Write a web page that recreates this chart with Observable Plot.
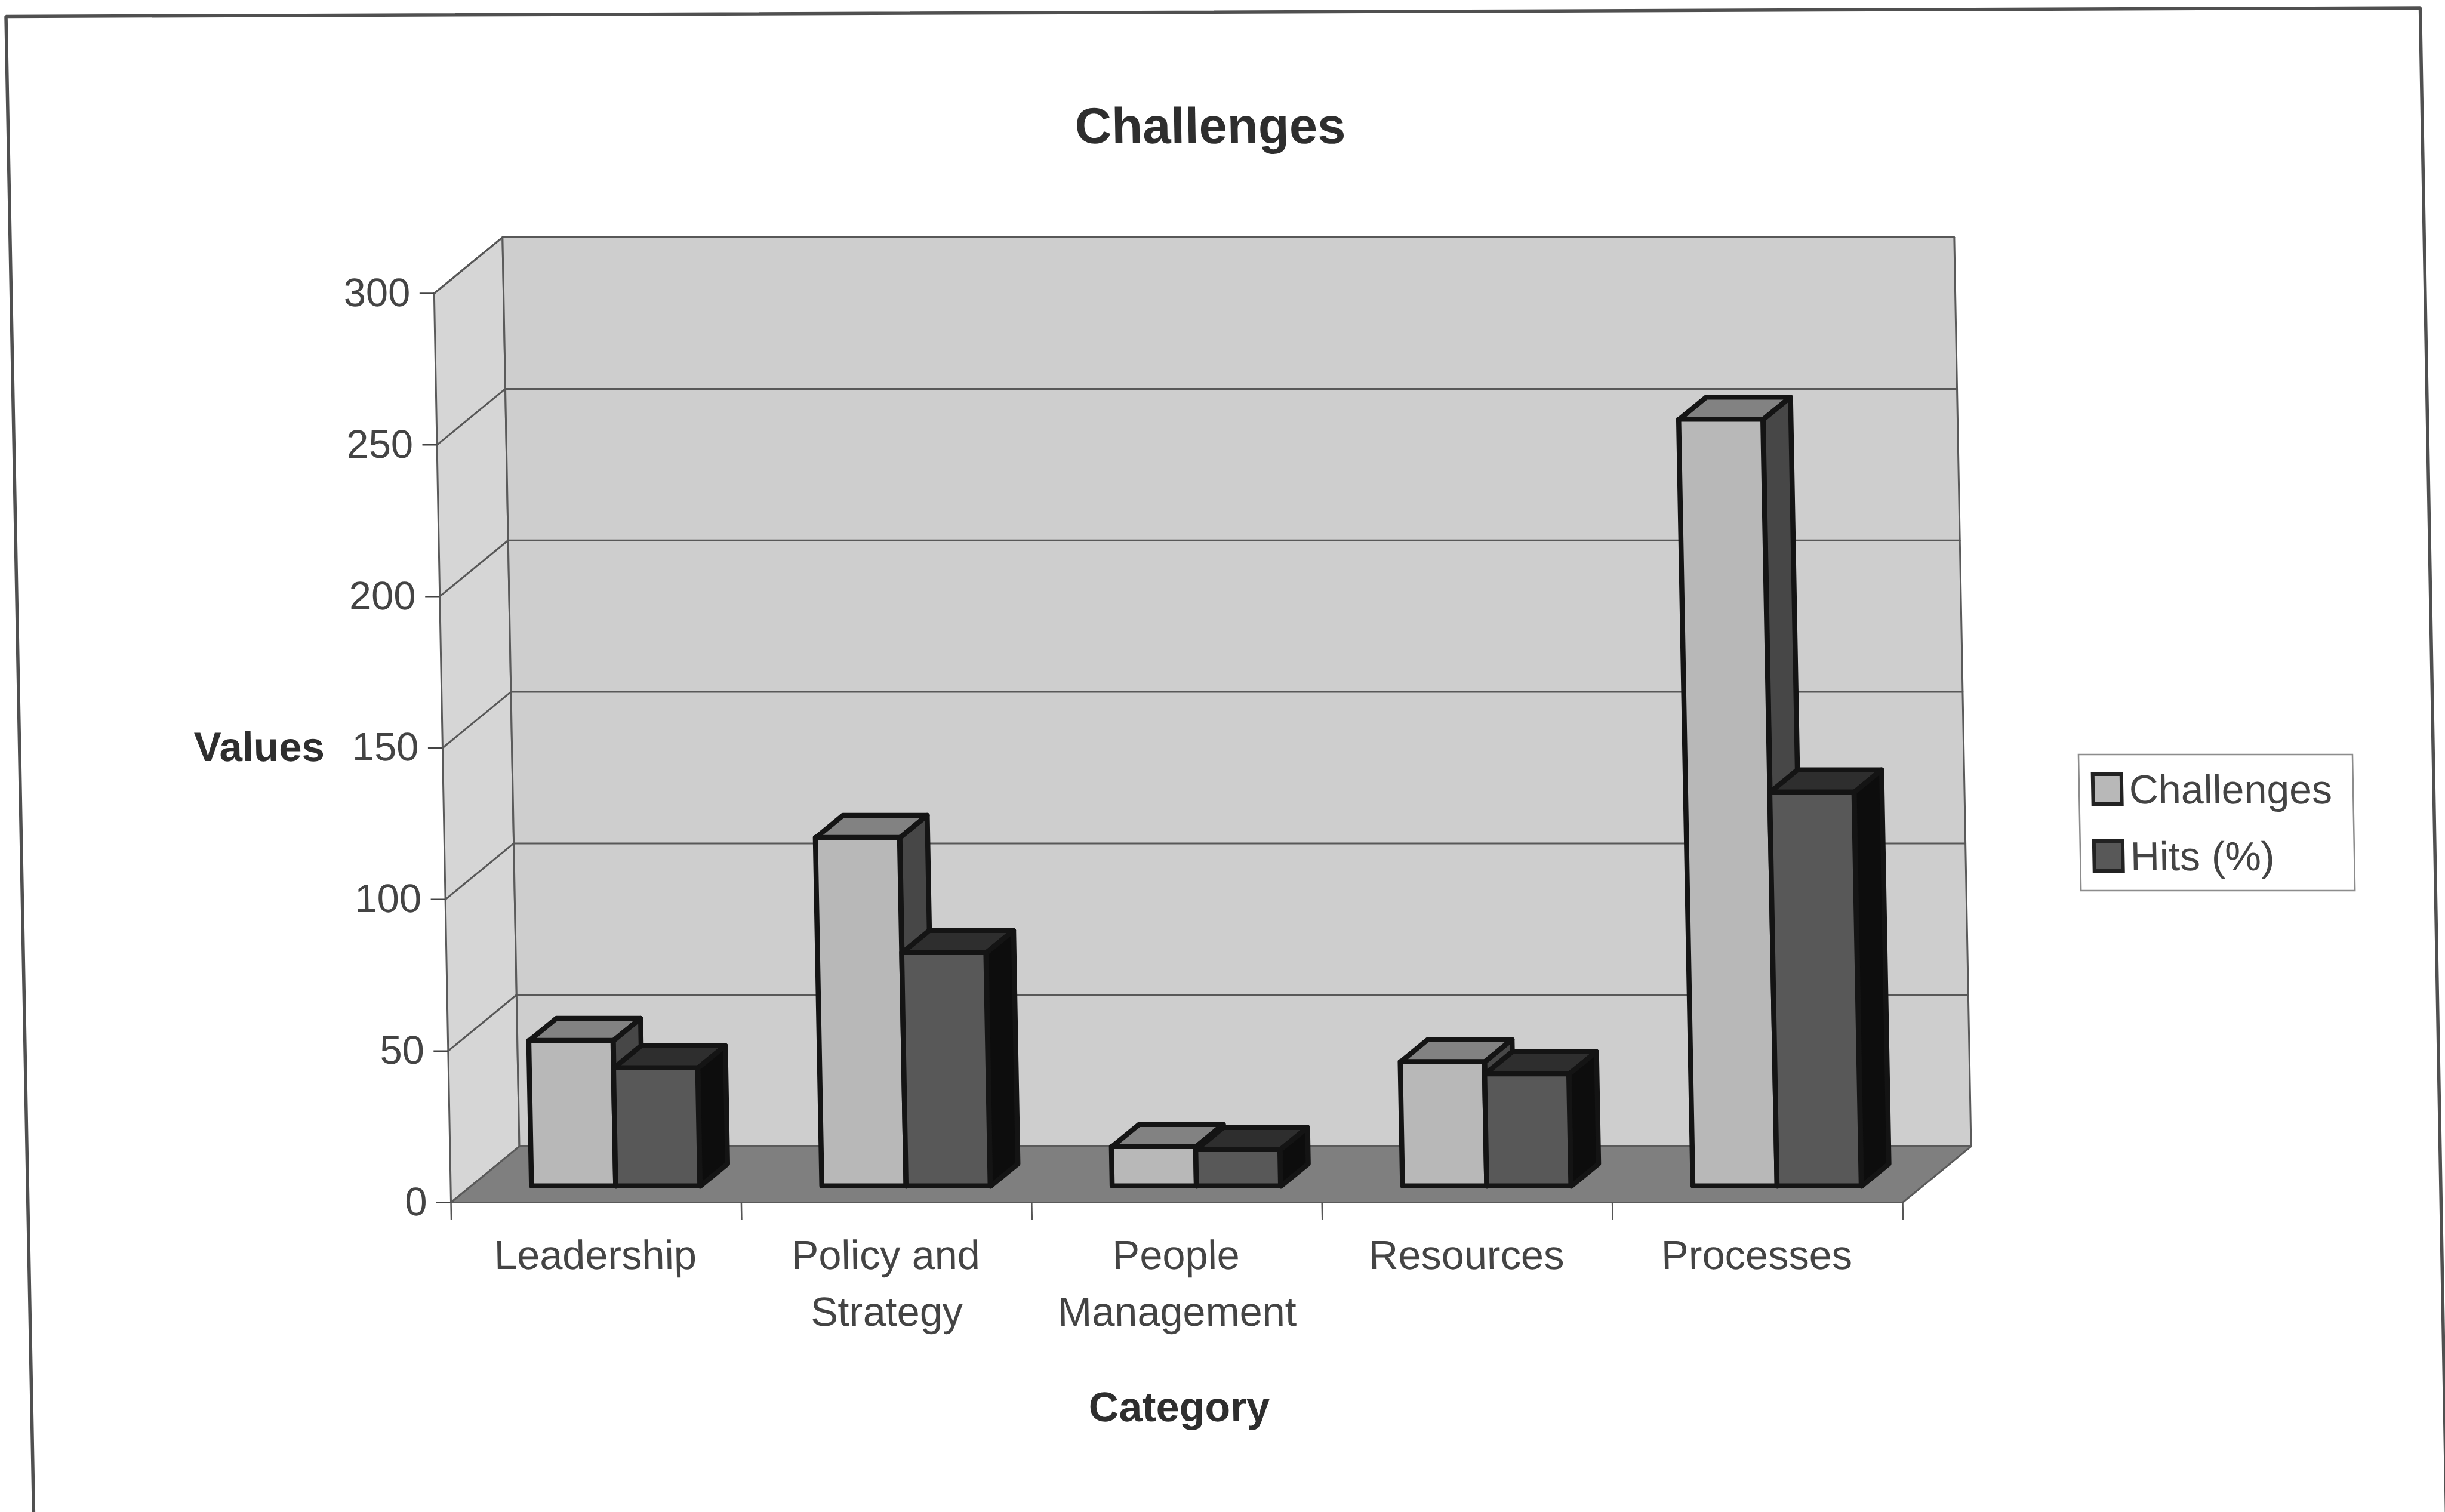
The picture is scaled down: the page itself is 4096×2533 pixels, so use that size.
<!DOCTYPE html>
<html>
<head>
<meta charset="utf-8">
<style>
  html, body { margin: 0; padding: 0; background: #fff; overflow: hidden; width: 4096px; height: 2533px; }
  svg { display: block; }
</style>
<script src="https://cdn.jsdelivr.net/npm/d3@7"></script>
<script src="https://cdn.jsdelivr.net/npm/@observablehq/plot@0.6"></script>
</head>
<body>
<div id="chart"></div>
<script>
// Chart values
const categories = ["Leadership", "Policy and\nStrategy", "People\nManagement", "Resources", "Processes"];
const challenges = [48, 115, 13, 41, 253];
const hits = [39, 77, 12, 37, 130];
const valueTicks = [0, 50, 100, 150, 200, 250, 300];
const slotTicks = [0, 1, 2, 3, 4, 5];
const seriesNames = ["Challenges", "Hits (%)"];

// Page and plot box, in pixels
const W = 4096, H = 2533;
const plotLeft = 755, plotRight = 3187, plotTop = 491, plotBase = 2014;
const slotPx = (plotRight - plotLeft) / 5, unitPx = (plotBase - plotTop) / 300;
const fromX = (px) => (px - plotLeft) / slotPx;
const fromY = (px) => (plotBase - px) / unitPx;

// The whole drawing leans slightly; the lean pivots on the baseline
const lean = 0.0185;
const unleanX = (px, py) => fromX(px - lean * (py - plotBase));

// Oblique depth of the 3D box, in data units per full depth
const DX = 0.239, DY = 18.5;
const barNear = 0.29, barFar = 0.69;
const prj = (x, v, d) => ({x: x + d * DX, y: v + d * DY});

// Polygon list for the walls and floor
const wallFaces = [
  {id: "left", fill: "#d6d6d6", pts: [prj(0, 0, 0), prj(0, 300, 0), prj(0, 300, 1), prj(0, 0, 1)]},
  {id: "back", fill: "#cecece", pts: [prj(0, 0, 1), prj(5, 0, 1), prj(5, 300, 1), prj(0, 300, 1)]},
  {id: "floor", fill: "#7f7f7f", pts: [prj(0, 0, 0), prj(5, 0, 0), prj(5, 0, 1), prj(0, 0, 1)]}
].flatMap((f) => f.pts.map((p) => ({...p, id: f.id, fill: f.fill})));

// Horizontal rules across the left and back walls
const gridLines = valueTicks.slice(1).flatMap((v) => [
  {...prj(0, v, 0), v}, {...prj(0, v, 1), v}, {...prj(5, v, 1), v}
]);

// Top and side faces of one series of bars
function barFaces(values, l, r, topFill, sideFill) {
  return values.flatMap((v, i) => [
    {id: `t${i}`, fill: topFill, pts: [prj(i + l, v, barNear), prj(i + r, v, barNear), prj(i + r, v, barFar), prj(i + l, v, barFar)]},
    {id: `s${i}`, fill: sideFill, pts: [prj(i + r, 0, barNear), prj(i + r, v, barNear), prj(i + r, v, barFar), prj(i + r, 0, barFar)]}
  ]).flatMap((f) => f.pts.map((p) => ({...p, id: f.id, fill: f.fill})));
}

// Front face of one series of bars
function barFronts(values, l, r) {
  return values.map((v, i) => ({
    x1: prj(i + l, 0, barNear).x,
    x2: prj(i + r, 0, barNear).x,
    y1: prj(0, 0, barNear).y,
    y2: prj(0, v, barNear).y
  }));
}

function barSeries(values, l, r, frontFill, topFill, sideFill) {
  return [
    Plot.line(barFaces(values, l, r, topFill, sideFill), {
      x: "x", y: "y", z: "id", fill: (d) => d.fill,
      curve: "linear-closed", stroke: "#141414", strokeWidth: 8.5, strokeLinejoin: "round"
    }),
    Plot.rect(barFronts(values, l, r), {
      x1: "x1", x2: "x2", y1: "y1", y2: "y2",
      fill: frontFill, stroke: "#141414", strokeWidth: 8.5, strokeLinejoin: "round"
    })
  ];
}

// Page frame, open along the bottom edge
const framePts = [[56, 2540], [9.5, 27], [4054, 12.5], [4098, 2540]]
  .map(([x, y]) => ({x: unleanX(x, y), y: fromY(y)}));

// Legend box geometry
const legendBox = {x1: fromX(3482 + 5.3 * 2.612), x2: fromX(3941 + 5.3 * 2.612), y1: fromY(1492), y2: fromY(1264)};
const legendSwatches = [
  {name: seriesNames[0], py: 1322, fill: "#b8b8b8"},
  {name: seriesNames[1], py: 1434, fill: "#585858"}
];

const textColor = "#444444";
const headColor = "#2e2e2e";

const chart = Plot.plot({
  width: W,
  height: H,
  marginLeft: plotLeft,
  marginRight: W - plotRight,
  marginTop: plotTop,
  marginBottom: H - plotBase,
  x: {domain: [0, 5], axis: null},
  y: {domain: [0, 300], axis: null},
  color: {type: "identity"},
  style: {fontFamily: "'Liberation Sans', Arial, sans-serif", fontSize: "67px", background: "#fff", overflow: "visible"},
  marks: [
    // Frame
    Plot.line(framePts, {x: "x", y: "y", stroke: "#505050", strokeWidth: 5.5, strokeLinejoin: "miter"}),

    // Walls and floor
    Plot.line(wallFaces, {
      x: "x", y: "y", z: "id", fill: (d) => d.fill,
      curve: "linear-closed", stroke: "#5a5a5a", strokeWidth: 3
    }),
    Plot.line(gridLines, {x: "x", y: "y", z: "v", stroke: "#585858", strokeWidth: 3}),

    // Bars, back to front
    ...barSeries(challenges, 0.21, 0.5, "#b8b8b8", "#828282", "#474747"),
    ...barSeries(hits, 0.5, 0.79, "#585858", "#2e2e2e", "#0d0d0d"),

    // Axes
    Plot.axisY({
      ticks: valueTicks, tickSize: 24, tickPadding: 16, label: null,
      color: textColor, fontSize: 67, strokeWidth: 2.5
    }),
    Plot.ruleX(slotTicks, {x: (d) => d, y1: 0, y2: -29 / unitPx, stroke: "#555", strokeWidth: 2.5}),
    Plot.axisX({
      ticks: categories.map((c, i) => i + 0.5),
      tickFormat: (t) => categories[Math.floor(t)],
      tickSize: 0, tickPadding: 44, label: null, dx: -3,
      lineHeight: 1.39, color: textColor, fontSize: 68.5
    }),

    // Titles
    Plot.text(["Challenges"], {
      x: unleanX(2027, 212), y: fromY(212),
      fontWeight: "bold", fontSize: 85, fill: headColor
    }),
    Plot.text(["Values"], {
      x: unleanX(434, 1252), y: fromY(1252),
      fontWeight: "bold", fontSize: 69, fill: headColor
    }),
    Plot.text(["Category"], {
      x: unleanX(1975, 2358), y: fromY(2358),
      fontWeight: "bold", fontSize: 70, fill: headColor
    }),

    // Legend
    Plot.rect([legendBox], {x1: "x1", x2: "x2", y1: "y1", y2: "y2", fill: "#fff", stroke: "#8c8c8c", strokeWidth: 2.5}),
    Plot.rect(legendSwatches, {
      x1: fromX(3505 + 14), x2: fromX(3553 + 14),
      y1: (d) => fromY(d.py + 25), y2: (d) => fromY(d.py - 25),
      fill: "fill", stroke: "#222", strokeWidth: 6
    }),
    Plot.text(legendSwatches, {
      x: fromX(3565 + 14), y: (d) => fromY(d.py + 2), text: "name",
      textAnchor: "start", fill: textColor, fontSize: 68
    })
  ]
});

chart.style.transformOrigin = `0 ${plotBase}px`;
chart.style.transform = `matrix(1, 0, ${lean}, 1, 0, 0)`;
document.getElementById("chart").append(chart);
</script>
</body>
</html>
